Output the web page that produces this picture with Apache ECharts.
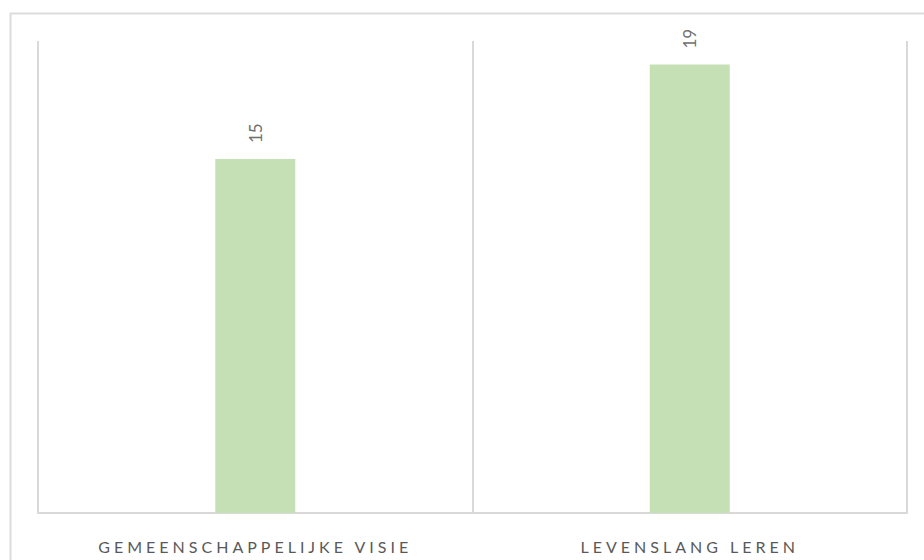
<!DOCTYPE html>
<html>
<head>
<meta charset="utf-8">
<script src="https://cdn.jsdelivr.net/npm/echarts@6/dist/echarts.min.js"></script>
<style>
html,body{margin:0;padding:0;background:#fff;}
#chart{width:924px;height:560px;}
</style>
</head>
<body>
<div id="chart"></div>
<script>
var categories = ['GEMEENSCHAPPELIJKE VISIE', 'LEVENSLANG LEREN'];
var values = [15, 19];
var yMin = 0;
var yMax = 20;

var chart = echarts.init(document.getElementById('chart'), null, {renderer: 'svg'});
chart.setOption({
  animation: false,
  backgroundColor: '#ffffff',
  graphic: [{
    type: 'rect',
    shape: {x: 10.5, y: 13.5, width: 1000, height: 1000},
    style: {fill: 'none', stroke: '#dcdcdc', lineWidth: 2},
    silent: true
  }],
  grid: {left: 38, right: 17, top: 41, bottom: 47},
  xAxis: {
    type: 'category',
    data: categories,
    axisLine: {show: true, lineStyle: {color: '#d9d9d9', width: 2}},
    axisTick: {show: false},
    splitLine: {show: true, lineStyle: {color: '#d9d9d9', width: 2}},
    axisLabel: {
      color: '#595959',
      fontFamily: 'Lato',
      fontSize: 16,
      margin: 25
    }
  },
  yAxis: {
    type: 'value',
    min: yMin,
    max: yMax,
    show: false,
    splitLine: {show: false}
  },
  series: [{
    type: 'bar',
    data: values,
    barWidth: 80,
    itemStyle: {color: '#c5e0b4'},
    label: {
      show: true,
      position: 'top',
      rotate: 90,
      align: 'left',
      verticalAlign: 'middle',
      distance: 16,
      color: '#707070',
      fontFamily: 'Lato',
      fontSize: 17
    }
  }]
});

function spaceLabels() {
  var texts = document.querySelectorAll('#chart svg text');
  texts.forEach(function (t) {
    if (categories.indexOf(t.textContent) >= 0) {
      t.style.letterSpacing = '4px';
    }
  });
}
spaceLabels();
chart.on('finished', spaceLabels);
</script>
</body>
</html>
